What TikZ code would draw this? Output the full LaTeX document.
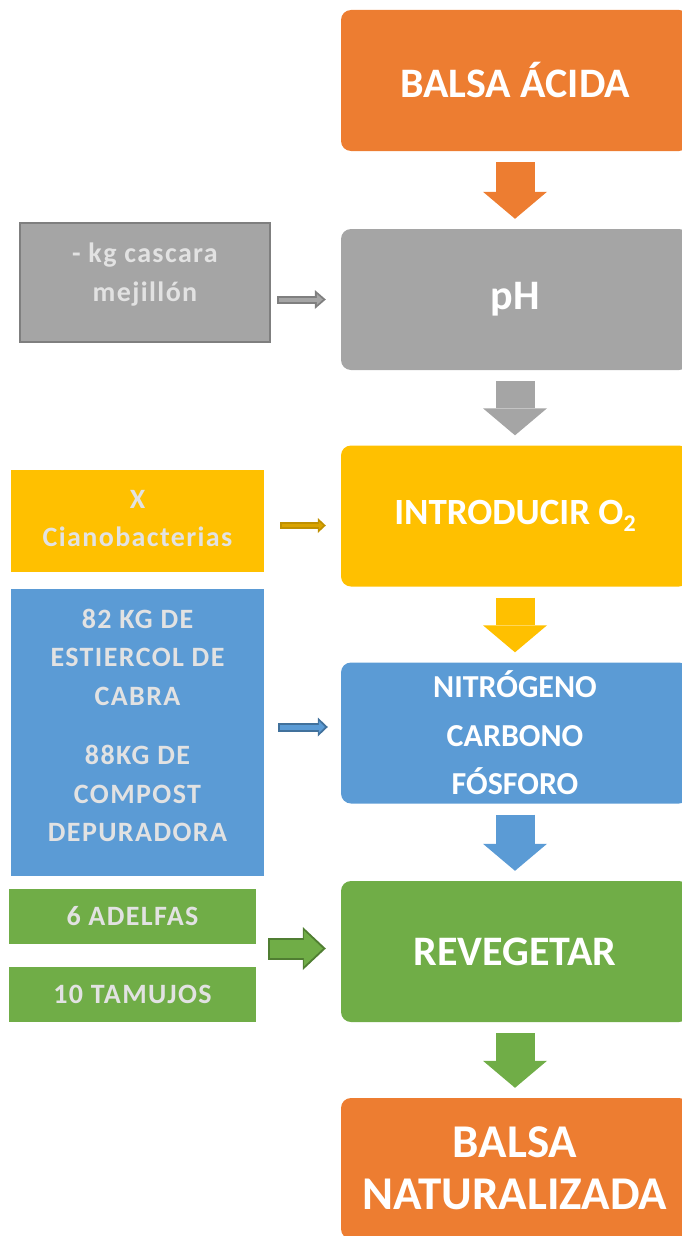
\documentclass[tikz,border=0pt]{standalone}
\usepackage{fontspec}
\setmainfont{Carlito}
\newfontfamily\spacedfont[LetterSpace=5]{Carlito}
\usetikzlibrary{arrows.meta,calc}

\definecolor{naranja}{HTML}{ED7D31}
\definecolor{gris}{HTML}{A5A5A5}
\definecolor{grisosc}{HTML}{7F7F7F}
\definecolor{amarillo}{HTML}{FFC000}
\definecolor{amarillosc}{HTML}{BF9000}
\definecolor{amarillomed}{HTML}{D9A300}
\definecolor{azul}{HTML}{5B9BD5}
\definecolor{azulosc}{HTML}{41719C}
\definecolor{verde}{HTML}{70AD47}
\definecolor{verdeosc}{HTML}{507E32}
\definecolor{textoclaro}{HTML}{E2E2E2}

% texto con hueco extra debajo (sube el bloque)
\newcommand{\subir}[2]{\begin{tabular}{@{}c@{}}#2\\[#1]\end{tabular}}

\tikzset{
  paso/.style={rounded corners=10pt, minimum width=348pt, minimum height=141pt, inner sep=0pt, text=white, align=center},
  aporte/.style={inner sep=0pt, text=textoclaro, align=center, font=\spacedfont\bfseries\fontsize{28}{38.5}\selectfont},
  bajada/.style={line width=39pt, -{Triangle[length=27pt, width=64pt, line width=0pt]}, shorten <=11pt, shorten >=10pt},
}

\begin{document}
\begin{tikzpicture}[x=1pt, y=-1pt]
    \useasboundingbox (0,0) rectangle (682,1236);
    \clip (0,0) rectangle (682,1236);

    % columna principal
    \node[paso, fill=naranja, font=\bfseries\fontsize{42}{50}\selectfont] (acida) at (515,80.5) {BALSA ÁCIDA};
    \node[paso, fill=gris, font=\bfseries\fontsize{42}{50}\selectfont] (ph) at (515,299.5) {pH};
    \node[paso, fill=amarillo, font=\bfseries\fontsize{37}{46}\selectfont] (oxigeno) at (515,516) {INTRODUCIR O{\fontsize{24}{24}\selectfont\raisebox{-7pt}{2}}};
    \node[paso, fill=azul, font=\bfseries\fontsize{32}{48.5}\selectfont] (nutrientes) at (515,733) {NITRÓGENO\\ CARBONO\\ FÓSFORO};
    \node[paso, fill=verde, font=\bfseries\fontsize{42}{50}\selectfont] (revegetar) at (515,951.5) {REVEGETAR};
    \node[paso, fill=naranja, font=\bfseries\fontsize{47}{52}\selectfont] (naturalizada) at (515,1168.5) {BALSA\\ NATURALIZADA};

    \draw[bajada, naranja] (acida) -- (ph);
    \draw[bajada, gris] (ph) -- (oxigeno);
    \draw[bajada, amarillo] (oxigeno) -- (nutrientes);
    \draw[bajada, azul] (nutrientes) -- (revegetar);
    \draw[bajada, verde] (revegetar) -- (naturalizada);

    % aportes
    \node[aporte, fill=gris, draw=grisosc, line width=2pt, minimum width=250pt, minimum height=119pt] (cascara) at (145,282.5) {\subir{16pt}{- kg cascara\\ mejillón}};
    \node[aporte, fill=amarillo, minimum width=253pt, minimum height=102pt] (ciano) at (137.5,521) {\subir{2pt}{X\\ Cianobacterias}};
    \node[aporte, fill=azul, minimum width=253pt, minimum height=287pt] (estiercol) at (137.5,732.5) {\subir{10pt}{82 KG DE\\ ESTIERCOL DE\\ CABRA\\[21pt] 88KG DE\\ COMPOST\\ DEPURADORA}};
    \node[aporte, fill=verde, minimum width=247pt, minimum height=55pt] (adelfas) at (132.5,916.5) {6 ADELFAS};
    \node[aporte, fill=verde, minimum width=247pt, minimum height=55pt] (tamujos) at (132.5,994.5) {10 TAMUJOS};

    \coordinate (pc) at (cascara.east |- ph.west);
    \draw[grisosc, line width=8pt, -{Triangle[length=11pt, width=19pt, line width=0pt]}, shorten <=6pt, shorten >=15pt] (pc) -- (ph.west);
    \draw[gris, line width=4pt, -{Triangle[length=6pt, width=11pt, line width=0pt]}, shorten <=8pt, shorten >=18pt] (pc) -- (ph.west);

    \coordinate (pa) at ($(ciano.east)+(0,4.5)$);
    \draw[amarillosc, line width=7pt, -{Triangle[length=8pt, width=15pt, line width=0pt]}, shorten <=16pt, shorten >=15pt] (pa) -- (pa -| oxigeno.west);
    \draw[amarillomed, line width=3pt, -{Triangle[length=4.5pt, width=8pt, line width=0pt]}, shorten <=17.5pt, shorten >=17.5pt] (pa) -- (pa -| oxigeno.west);

    \coordinate (pz) at ($(estiercol.east)+(0,-5.5)$);
    \draw[azulosc, line width=9pt, -{Triangle[length=10pt, width=19pt, line width=0pt]}, shorten <=14pt, shorten >=13pt] (pz) -- (pz -| nutrientes.west);
    \draw[azul, line width=5pt, -{Triangle[length=6pt, width=12pt, line width=0pt]}, shorten <=16pt, shorten >=16pt] (pz) -- (pz -| nutrientes.west);

    \coordinate (pv) at ($(adelfas.east)!.5!(tamujos.east)+(0,-7)$);
    \draw[verdeosc, line width=22pt, -{Triangle[length=23pt, width=43pt, line width=0pt]}, shorten <=12pt, shorten >=15pt] (pv) -- (pv -| revegetar.west);
    \draw[verde, line width=18pt, -{Triangle[length=19pt, width=36pt, line width=0pt]}, shorten <=14pt, shorten >=18pt] (pv) -- (pv -| revegetar.west);
\end{tikzpicture}
\end{document}
